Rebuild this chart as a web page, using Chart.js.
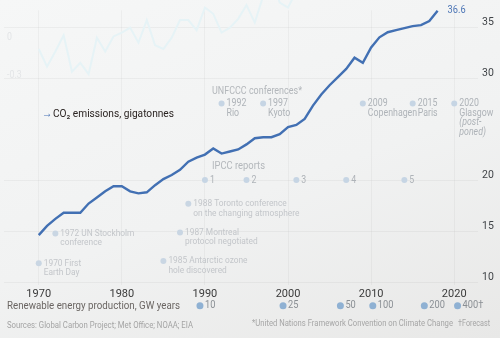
<!DOCTYPE html>
<html>
<head>
<meta charset="utf-8">
<script src="https://cdn.jsdelivr.net/npm/chart.js@4"></script>
<style>
  html, body { margin: 0; padding: 0; }
  body {
    width: 500px; height: 338px; overflow: hidden;
    background: linear-gradient(160deg, #f6f7f7 0%, #f1f2f2 55%, #e8e8e7 100%);
  }
</style>
</head>
<body>
<canvas id="chart" width="500" height="338"></canvas>
<script>
// CO2 emissions, gigatonnes
const years = [1970, 1971, 1972, 1973, 1974, 1975, 1976, 1977, 1978, 1979,
  1980, 1981, 1982, 1983, 1984, 1985, 1986, 1987, 1988, 1989,
  1990, 1991, 1992, 1993, 1994, 1995, 1996, 1997, 1998, 1999,
  2000, 2001, 2002, 2003, 2004, 2005, 2006, 2007, 2008, 2009,
  2010, 2011, 2012, 2013, 2014, 2015, 2016, 2017, 2018]
const emissions = [14.6, 15.5, 16.2, 16.8, 16.8, 16.8, 17.7, 18.3, 18.9, 19.4,
  19.4, 18.9, 18.7, 18.8, 19.5, 20.1, 20.5, 21.0, 21.8, 22.2,
  22.5, 23.1, 22.6, 22.8, 23.0, 23.5, 24.1, 24.2, 24.2, 24.5,
  25.2, 25.4, 26.0, 27.3, 28.4, 29.3, 30.1, 30.9, 32.0, 31.5,
  33.0, 34.0, 34.5, 34.7, 34.9, 35.1, 35.2, 35.6, 36.6]

// faint temperature chart showing through from the panel above
const tempYears = [1970, 1971, 1972, 1973, 1974, 1975, 1976, 1977, 1978, 1979,
  1980, 1981, 1982, 1983, 1984, 1985, 1986, 1987, 1988, 1989,
  1990, 1991, 1992, 1993, 1994, 1995, 1996, 1997, 1998, 1999, 2000, 2001]
const tempAnomaly = [-0.04, -0.18, -0.06, 0.07, -0.22, -0.15, -0.24, 0.05, -0.06, 0.06,
  0.09, 0.13, 0.01, 0.19, -0.01, -0.04, 0.05, 0.19, 0.19, 0.11,
  0.29, 0.24, 0.09, 0.13, 0.2, 0.31, 0.17, 0.38, 0.52, 0.33, 0.29, 0.42]

const xTicks = [1970, 1980, 1990, 2000, 2010, 2020]
const yTicks = [10, 15, 20, 30, 35]
const tempTicks = [0, -0.3]

const unfcccYears = [1992, 1997, 2009, 2015, 2020]
const unfcccLabels = [["1992", "Rio"], ["1997", "Kyoto"], ["2009", "Copenhagen"],
  ["2015", "Paris"], ["2020", "Glasgow", "(post-", "poned)"]]

const ipccYears = [1990, 1995, 2001, 2007, 2014]
const ipccLabels = [["1"], ["2"], ["3"], ["4"], ["5"]]

const eventYears = [1970, 1972, 1985, 1987, 1988]
const eventLabels = [["1970 First", "Earth Day"], ["1972 UN Stockholm", "conference"],
  ["1985 Antarctic ozone", "hole discovered"], ["1987 Montreal", "protocol negotiated"],
  ["1988 Toronto conference", "on the changing atmosphere"]]

// renewable energy production, GW years, and the year each level was reached
const renewYears = [1989.4, 1999.4, 2006.3, 2010.2, 2016.4, 2020.4]
const renewLabels = ["10", "25", "50", "100", "200", "400\u2020"]

// layout: rows of the annotation dots, in gigatonne units of the y scale
const ROW_UNFCCC = 27.5
const ROW_IPCC = 20.0
const ROW_EVENT = [11.85, 14.77, 12.07, 14.86, 17.68]
const ROW_RENEW = 7.67

const FONT = "Roboto, 'Liberation Sans', sans-serif"
const ITALIC = new Set(["(post-", "poned)"])
const NARROW = 0.88

function toPoints(xs, ys) {
  return xs.map((x, i) => ({ x: x, y: Array.isArray(ys) ? ys[i] : ys }))
}

function dotSet(xs, rows, labels, style) {
  return Object.assign({
    type: "scatter",
    data: toPoints(xs, rows),
    showLine: false,
    clip: false,
    pointRadius: 3,
    pointBorderWidth: 0,
    notes: labels,
    noteGap: 5,
    noteLead: 9.5,
    noteSize: 10
  }, style)
}

// draws condensed text; with a width it is squeezed to that width
function drawText(ctx, s, x, y, size, color, width, italic) {
  ctx.font = (italic ? "italic " : "") + size + "px " + FONT
  ctx.fillStyle = color
  const k = width ? width / ctx.measureText(s).width : NARROW
  ctx.save()
  ctx.translate(x, y)
  ctx.scale(k, 1)
  ctx.fillText(s, 0, 0)
  ctx.restore()
}

const notesPlugin = {
  id: "notes",
  beforeDatasetsDraw(chart) {
    const ctx = chart.ctx
    const { x, y, yT } = chart.scales
    ctx.save()
    ctx.textBaseline = "middle"
    ctx.textAlign = "left"
    chart.data.datasets.forEach((ds, i) => {
      if (!ds.notes) return
      chart.getDatasetMeta(i).data.forEach((pt, j) => {
        ds.notes[j].forEach((line, k) => {
          drawText(ctx, line, pt.x + ds.noteGap, pt.y + k * ds.noteLead,
            ds.noteSize, ds.noteColor, 0, ITALIC.has(line))
        })
      })
    })

    tempTicks.forEach(v => drawText(ctx, String(v), 7, yT.getPixelForValue(v) - 6, 10, "#e3e5e7"))

    drawText(ctx, "UNFCCC conferences*", 212, 91, 10.5, "#b3b7bb", 90)
    drawText(ctx, "IPCC reports", 212, 166, 10.5, "#b3b7bb", 53)
    drawText(ctx, "\u2192", 42, 114, 12, "#4a74b6")
    drawText(ctx, "CO\u2082 emissions, gigatonnes", 53, 114, 11.5, "#2a2321", 121)
    drawText(ctx, "Renewable energy production, GW years", 7, 306, 11.5, "#6a6562", 173)
    drawText(ctx, "Sources: Global Carbon Project; Met Office; NOAA; EIA", 7, 326, 9.5, "#a4a4a4", 186)
    drawText(ctx, "*United Nations Framework Convention on Climate Change", 252, 324, 9.5, "#a6a6a6", 201)
    drawText(ctx, "\u2020Forecast", 458, 324, 9.5, "#a6a6a6", 32)

    // renewables row sits below the plot area, so its dots go through the scales here
    const ry = y.getPixelForValue(ROW_RENEW)
    renewYears.forEach((yr, i) => {
      const px = x.getPixelForValue(yr)
      ctx.fillStyle = "#8fb1d3"
      ctx.beginPath()
      ctx.arc(px, ry, 3.5, 0, Math.PI * 2)
      ctx.fill()
      drawText(ctx, renewLabels[i], px + 5, ry, 10.5, "#8a8f94")
    })

    const line = chart.getDatasetMeta(0).data
    const last = line[line.length - 1]
    drawText(ctx, String(emissions[emissions.length - 1]), last.x + 10, last.y, 10.5, "#4d76b6")
    ctx.restore()
  }
}

new Chart(document.getElementById("chart"), {
  type: "line",
  data: {
    datasets: [
      {
        data: toPoints(years, emissions),
        borderColor: "#4270b3",
        borderWidth: 2.4,
        pointRadius: 0,
        tension: 0,
        clip: false
      },
      {
        data: toPoints(tempYears, tempAnomaly),
        yAxisID: "yT",
        borderColor: "#e6f3f6",
        borderWidth: 2,
        pointRadius: 0,
        tension: 0,
        clip: false
      },
      dotSet(unfcccYears, ROW_UNFCCC, unfcccLabels,
        { backgroundColor: "#c6d5e4", noteColor: "#aeb3b8" }),
      dotSet(ipccYears, ROW_IPCC, ipccLabels,
        { backgroundColor: "#c6d5e4", noteColor: "#aeb3b8" }),
      dotSet(eventYears, ROW_EVENT, eventLabels,
        { backgroundColor: "#c9d6e3", noteColor: "#c3c6ca", noteSize: 9.5 })
    ]
  },
  options: {
    responsive: false,
    animation: false,
    events: [],
    layout: { padding: { top: 8, bottom: 36, left: 0, right: 0 } },
    plugins: {
      legend: { display: false },
      tooltip: { enabled: false }
    },
    scales: {
      x: {
        type: "linear",
        min: 1965.82,
        max: 2022.86,
        afterBuildTicks: s => { s.ticks = xTicks.map(v => ({ value: v })) },
        afterFit: s => { s.height = 17 },
        ticks: {
          padding: 3,
          color: "#3a3a3a",
          font: { family: FONT, size: 11 },
          callback: v => String(v)
        },
        grid: { color: "rgba(0,0,0,0.035)", drawTicks: false },
        border: { display: false }
      },
      y: {
        position: "right",
        min: 9.71,
        max: 36.65,
        afterBuildTicks: s => { s.ticks = yTicks.map(v => ({ value: v })) },
        afterFit: s => { s.width = 22 },
        ticks: {
          padding: 4,
          labelOffset: -5,
          color: "#404448",
          font: { family: FONT, size: 10.5 },
          callback: v => String(v)
        },
        grid: { color: "rgba(0,0,0,0.04)", drawTicks: false },
        border: { display: false }
      },
      yT: {
        display: false,
        min: -1.918,
        max: 0.268
      }
    }
  },
  plugins: [notesPlugin]
})
</script>
</body>
</html>
